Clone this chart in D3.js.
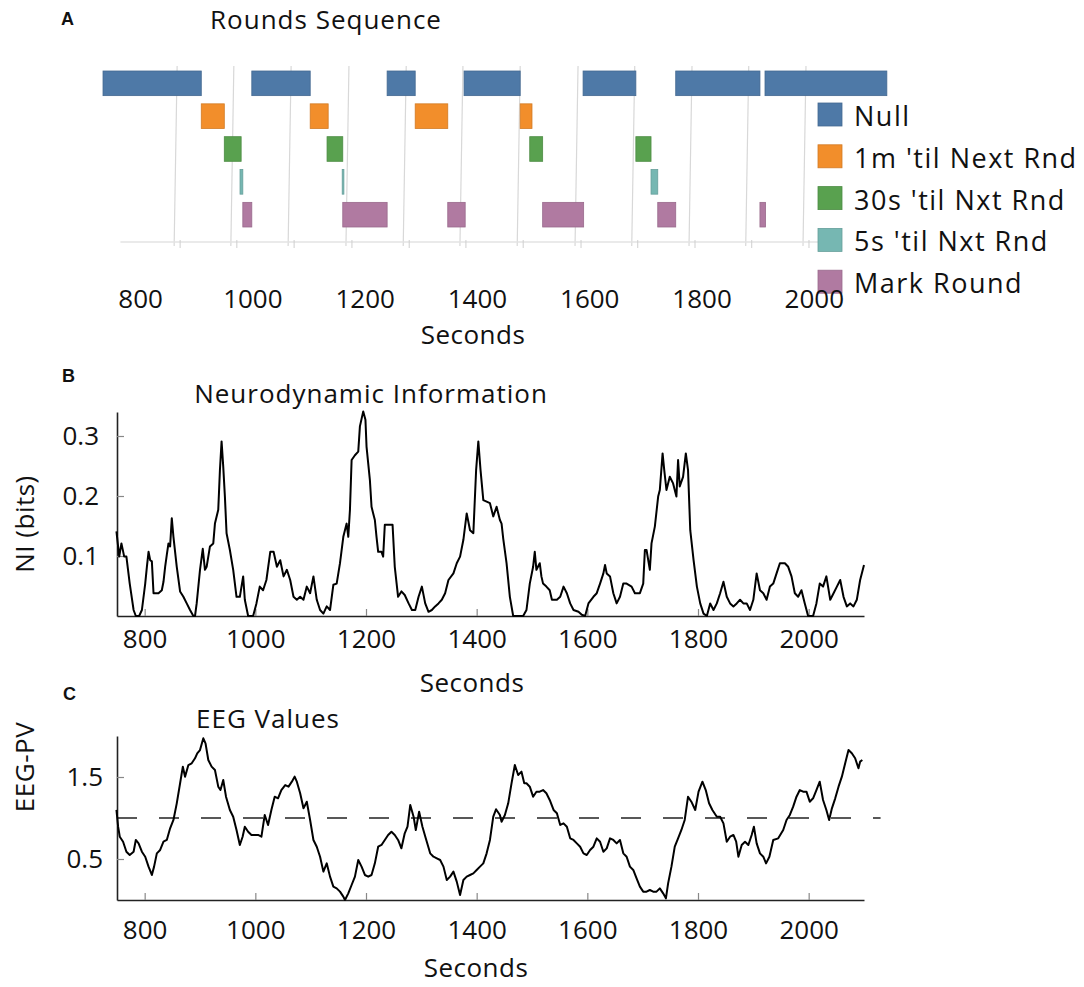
<!DOCTYPE html>
<html>
<head>
<meta charset="utf-8">
<script src="https://cdn.jsdelivr.net/npm/d3@7"></script>
<style>
  body { margin: 0; background: #fff; }
  text { font-family: "Open Sans", sans-serif; fill: #111; }
  text.tag { font-family: "Liberation Sans", Arial, sans-serif; font-weight: bold; font-size: 18px; }
  .title { font-size: 26px; letter-spacing: 1px; }
  .axisText { font-size: 26px; letter-spacing: 0.5px; }
  .tick text { font-family: "Open Sans", sans-serif; font-size: 26px; fill: #111; }
  .legend text { font-size: 27px; letter-spacing: 1.5px; }
</style>
</head>
<body>
<div id="chart"></div>
<script>
// ---------- data ----------
// panel A: round phases, [start, end] in seconds
var categories = ["Null", "1m 'til Next Rnd", "30s 'til Nxt Rnd", "5s 'til Nxt Rnd", "Mark Round"];
var categoryColors = ["#4e79a7", "#f28e2b", "#59a14f", "#76b7b2", "#b07aa1"];
var nullPeriods = [[734, 909], [999, 1103], [1240, 1290], [1377, 1477], [1589, 1683], [1754, 1904], [1913, 2130]];
var oneMinPeriods = [[909, 950], [1103, 1135], [1290, 1348], [1477, 1498]];
var thirtySecPeriods = [[950, 980], [1133, 1161], [1494, 1517], [1683, 1710]];
var fiveSecPeriods = [[978, 983], [1160, 1163], [1710, 1722]];
var markPeriods = [[983, 999], [1161, 1240], [1348, 1379], [1517, 1590], [1722, 1754], [1904, 1914]];
var gridSeconds = [866, 967, 1069, 1172, 1274, 1375, 1477, 1580, 1681, 1783, 1884, 1986];
var roundsAxisSpan = [765, 2010];
var xTickValues = [800, 1000, 1200, 1400, 1600, 1800, 2000];

// panel B: neurodynamic information (bits)
var niSeconds = [749, 754, 758, 763, 767, 773, 780, 784, 790, 795, 801, 804, 807, 810, 813, 816, 825, 831, 834, 837,
  840, 843, 846, 849, 852, 858, 864, 870, 876, 882, 888, 891, 894, 900, 905, 909, 912, 918, 924, 927,
  933, 936, 939, 942, 945, 948, 954, 960, 966, 972, 978, 981, 987, 996, 1002, 1008, 1014, 1020, 1027, 1033,
  1039, 1045, 1051, 1057, 1063, 1069, 1075, 1081, 1087, 1093, 1099, 1105, 1111, 1117, 1123, 1129, 1135, 1141, 1147, 1153,
  1159, 1165, 1168, 1171, 1174, 1180, 1186, 1189, 1195, 1199, 1201, 1207, 1210, 1213, 1216, 1219, 1222, 1228, 1231, 1234,
  1248, 1252, 1258, 1264, 1270, 1277, 1283, 1289, 1295, 1301, 1307, 1313, 1319, 1325, 1331, 1337, 1343, 1349, 1358, 1364,
  1370, 1376, 1382, 1388, 1394, 1399, 1403, 1407, 1412, 1424, 1430, 1436, 1442, 1445, 1448, 1454, 1460, 1466, 1484, 1490,
  1496, 1502, 1505, 1508, 1514, 1517, 1520, 1526, 1532, 1536, 1545, 1551, 1557, 1563, 1569, 1575, 1584, 1590, 1596, 1602,
  1611, 1617, 1623, 1629, 1632, 1635, 1641, 1647, 1653, 1659, 1665, 1671, 1680, 1686, 1695, 1701, 1704, 1707, 1713, 1716,
  1722, 1728, 1731, 1736, 1739, 1743, 1749, 1755, 1761, 1764, 1767, 1773, 1778, 1782, 1786, 1792, 1798, 1804, 1810, 1816,
  1822, 1828, 1834, 1840, 1846, 1852, 1858, 1864, 1870, 1876, 1882, 1888, 1894, 1900, 1906, 1912, 1918, 1924, 1930, 1936,
  1942, 1948, 1957, 1963, 1969, 1975, 1981, 1987, 1993, 1999, 2008, 2014, 2020, 2026, 2032, 2039, 2045, 2051, 2057, 2063,
  2069, 2075, 2081, 2087, 2093, 2100];
var niBits = [0.141, 0.099, 0.121, 0.099, 0.099, 0.054, 0.010, 0, 0, 0.010, 0.054, 0.082, 0.107, 0.093, 0.091, 0.038, 0.038, 0.043, 0.057, 0.082,
  0.102, 0.121, 0.116, 0.163, 0.132, 0.082, 0.041, 0.032, 0.021, 0.010, 0, 0, 0.021, 0.077, 0.112, 0.077, 0.082, 0.116, 0.121, 0.154,
  0.177, 0.243, 0.291, 0.249, 0.199, 0.138, 0.110, 0.077, 0.032, 0.032, 0.066, 0.027, 0, 0, 0.021, 0.049, 0.043, 0.060, 0.107, 0.107,
  0.082, 0.093, 0.066, 0.077, 0.060, 0.032, 0.027, 0.032, 0.027, 0.049, 0.038, 0.066, 0.027, 0.010, 0.004, 0.016, 0.010, 0.052, 0.054, 0.088,
  0.132, 0.154, 0.132, 0.177, 0.260, 0.268, 0.274, 0.316, 0.341, 0.327, 0.282, 0.227, 0.182, 0.171, 0.160, 0.132, 0.107, 0.107, 0.099, 0.152,
  0.152, 0.082, 0.032, 0.041, 0.035, 0.021, 0.010, 0.010, 0.032, 0.049, 0.021, 0.007, 0.010, 0.016, 0.021, 0.027, 0.038, 0.060, 0.071, 0.088,
  0.099, 0.127, 0.171, 0.143, 0.138, 0.243, 0.291, 0.243, 0.193, 0.188, 0.166, 0.182, 0.160, 0.154, 0.129, 0.088, 0.032, 0, 0, 0.010,
  0.054, 0.082, 0.107, 0.077, 0.088, 0.066, 0.054, 0.049, 0.043, 0.027, 0.027, 0.032, 0.049, 0.038, 0.021, 0.010, 0.007, 0.002, 0, 0.021,
  0.032, 0.038, 0.054, 0.071, 0.085, 0.071, 0.066, 0.038, 0.021, 0.032, 0.054, 0.054, 0.049, 0.038, 0.038, 0.054, 0.110, 0.110, 0.077, 0.121,
  0.149, 0.199, 0.210, 0.271, 0.243, 0.210, 0.232, 0.221, 0.199, 0.260, 0.216, 0.232, 0.271, 0.243, 0.143, 0.093, 0.049, 0.021, 0.004, 0,
  0.021, 0.010, 0.021, 0.038, 0.057, 0.032, 0.021, 0.016, 0.021, 0.027, 0.021, 0.021, 0.010, 0.027, 0.071, 0.043, 0.038, 0.027, 0.049, 0.054,
  0.071, 0.088, 0.088, 0.082, 0.066, 0.038, 0.032, 0.043, 0.021, 0, 0, 0.021, 0.054, 0.049, 0.066, 0.027, 0.038, 0.049, 0.060, 0.032,
  0.016, 0.021, 0.016, 0.027, 0.060, 0.085];

// panel C: EEG power values
var eegSeconds = [749, 752, 755, 761, 767, 773, 780, 784, 789, 795, 801, 807, 813, 817, 822, 828, 834, 840, 846, 852,
  858, 864, 869, 873, 879, 885, 891, 895, 900, 906, 910, 915, 921, 927, 933, 937, 942, 947, 954, 960,
  966, 972, 977, 981, 987, 993, 999, 1005, 1011, 1017, 1023, 1029, 1035, 1041, 1047, 1054, 1060, 1066, 1071, 1075,
  1081, 1087, 1093, 1099, 1105, 1111, 1117, 1123, 1129, 1135, 1141, 1147, 1153, 1159, 1162, 1168, 1174, 1180, 1186, 1192,
  1198, 1204, 1210, 1216, 1222, 1228, 1234, 1240, 1246, 1252, 1258, 1264, 1270, 1275, 1280, 1286, 1290, 1296, 1302, 1308,
  1316, 1322, 1328, 1334, 1340, 1346, 1352, 1358, 1364, 1370, 1376, 1382, 1388, 1394, 1400, 1406, 1412, 1418, 1424, 1430,
  1435, 1442, 1445, 1451, 1457, 1463, 1469, 1475, 1481, 1486, 1490, 1496, 1502, 1508, 1514, 1520, 1526, 1532, 1539, 1545,
  1551, 1557, 1563, 1569, 1575, 1581, 1587, 1593, 1599, 1605, 1611, 1617, 1623, 1629, 1635, 1641, 1647, 1653, 1659, 1665,
  1671, 1677, 1683, 1689, 1695, 1701, 1707, 1713, 1719, 1725, 1731, 1737, 1742, 1746, 1752, 1758, 1764, 1770, 1776, 1782,
  1788, 1795, 1801, 1808, 1814, 1820, 1826, 1834, 1840, 1846, 1852, 1858, 1864, 1869, 1873, 1879, 1885, 1891, 1897, 1901,
  1906, 1912, 1918, 1923, 1929, 1936, 1945, 1954, 1960, 1966, 1972, 1978, 1984, 1990, 1996, 2002, 2008, 2014, 2020, 2026,
  2032, 2037, 2042, 2048, 2054, 2060, 2066, 2072, 2078, 2084, 2090, 2093, 2097];
var eegValues = [1.10, 0.894, 0.772, 0.711, 0.589, 0.549, 0.589, 0.732, 0.691, 0.589, 0.528, 0.407, 0.305, 0.407, 0.569, 0.610, 0.711, 0.732, 0.874, 0.976,
  1.179, 1.423, 1.626, 1.504, 1.646, 1.667, 1.728, 1.789, 1.829, 1.972, 1.911, 1.707, 1.626, 1.585, 1.382, 1.341, 1.463, 1.260, 1.098, 1.016,
  0.854, 0.671, 0.772, 0.894, 0.833, 0.793, 0.793, 0.793, 0.772, 1.037, 0.915, 1.098, 1.260, 1.240, 1.341, 1.402, 1.382, 1.443, 1.504, 1.443,
  1.301, 1.118, 1.199, 0.976, 0.732, 0.650, 0.528, 0.346, 0.447, 0.285, 0.163, 0.142, 0.102, 0.041, 0, 0.081, 0.183, 0.285, 0.488, 0.407,
  0.305, 0.285, 0.305, 0.447, 0.650, 0.671, 0.732, 0.793, 0.833, 0.793, 0.732, 0.630, 0.813, 0.894, 1.159, 1.016, 0.854, 1.077, 0.894, 0.752,
  0.569, 0.528, 0.508, 0.488, 0.407, 0.244, 0.285, 0.346, 0.224, 0.061, 0.244, 0.285, 0.305, 0.325, 0.366, 0.407, 0.447, 0.569, 0.732, 1.016,
  1.106, 1.037, 0.955, 1.037, 1.179, 1.423, 1.646, 1.524, 1.565, 1.423, 1.423, 1.382, 1.260, 1.321, 1.321, 1.341, 1.301, 1.220, 1.098, 1.057,
  0.915, 0.935, 0.894, 0.752, 0.732, 0.691, 0.650, 0.569, 0.549, 0.610, 0.650, 0.752, 0.711, 0.589, 0.630, 0.752, 0.732, 0.691, 0.732, 0.569,
  0.528, 0.407, 0.366, 0.264, 0.163, 0.102, 0.102, 0.122, 0.102, 0.102, 0.142, 0.081, 0.020, 0.203, 0.407, 0.650, 0.752, 0.854, 0.976, 1.260,
  1.199, 1.098, 1.321, 1.443, 1.341, 1.179, 1.098, 1.016, 1.016, 0.935, 0.711, 0.772, 0.793, 0.711, 0.528, 0.671, 0.711, 0.671, 0.793, 0.894,
  0.691, 0.569, 0.528, 0.447, 0.528, 0.732, 0.752, 0.854, 0.976, 1.037, 1.138, 1.260, 1.341, 1.321, 1.321, 1.199, 1.240, 1.341, 1.443, 1.220,
  1.098, 0.976, 1.118, 1.240, 1.382, 1.504, 1.667, 1.829, 1.789, 1.728, 1.606, 1.687, 1.707];
var eegThreshold = 1.0;
var thresholdSpan = [750, 2130];

// ---------- svg ----------
var svgWidth = 1084;
var svgHeight = 987;

var svg = d3.select("#chart")
  .append("svg")
  .attr("width", svgWidth)
  .attr("height", svgHeight);

// ================= Panel A: rounds sequence =================
var xRounds = d3.scaleLinear().domain([750, 2100]).range([112, 870]);
var yRounds = d3.scaleBand().domain(categories).range([71, 227]).paddingInner(0.25);
var color = d3.scaleOrdinal().domain(categories).range(categoryColors);

var rounds = [];
[nullPeriods, oneMinPeriods, thirtySecPeriods, fiveSecPeriods, markPeriods].forEach(function(list, i) {
  list.forEach(function(p) {
    rounds.push({ cat: categories[i], start: p[0], end: p[1] });
  });
});

// faint vertical grid
svg.append("g")
  .selectAll("line")
  .data(gridSeconds)
  .enter()
  .append("line")
  .attr("x1", d => xRounds(d))
  .attr("x2", d => xRounds(d) - 3)
  .attr("y1", 66)
  .attr("y2", 246)
  .attr("stroke", "#d8d8d8")
  .attr("stroke-width", 1.2);

// faint baseline with little ticks
svg.append("line")
  .attr("x1", xRounds(roundsAxisSpan[0]))
  .attr("x2", xRounds(roundsAxisSpan[1]))
  .attr("y1", 242)
  .attr("y2", 242)
  .attr("stroke", "#e3e3e3")
  .attr("stroke-width", 1.5);

svg.append("g")
  .selectAll("line")
  .data(gridSeconds)
  .enter()
  .append("line")
  .attr("x1", d => xRounds(d) + 3)
  .attr("x2", d => xRounds(d) + 3)
  .attr("y1", 240)
  .attr("y2", 248)
  .attr("stroke", "#cfcfcf");

svg.append("g")
  .selectAll("rect")
  .data(rounds)
  .enter()
  .append("rect")
  .attr("x", d => xRounds(d.start))
  .attr("y", d => yRounds(d.cat))
  .attr("width", d => xRounds(d.end) - xRounds(d.start))
  .attr("height", yRounds.bandwidth())
  .attr("fill", d => color(d.cat))
  .attr("stroke", d => d3.color(color(d.cat)).darker(0.4))
  .attr("stroke-width", 0.8);

// legend
var legend = svg.append("g")
  .attr("class", "legend")
  .attr("transform", "translate(818, 103)");

var legendItem = legend.selectAll("g")
  .data(categories)
  .enter()
  .append("g")
  .attr("transform", (d, i) => `translate(0, ${i * 41.8})`);

legendItem.append("rect")
  .attr("width", 24)
  .attr("height", 23)
  .attr("fill", d => color(d))
  .attr("stroke", d => d3.color(color(d)).darker(0.4))
  .attr("stroke-width", 0.8);

legendItem.append("text")
  .attr("x", 36)
  .attr("y", 23)
  .text(d => d);

// x labels for panel A
var roundsAxis = svg.append("g")
  .attr("transform", "translate(0, 290)")
  .call(d3.axisBottom(xRounds).tickValues(xTickValues).tickFormat(d3.format("d")).tickSize(0).tickPadding(0));
roundsAxis.select(".domain").remove();

svg.append("text")
  .attr("class", "axisText")
  .attr("x", 473)
  .attr("y", 344)
  .attr("text-anchor", "middle")
  .text("Seconds");

svg.append("text").attr("class", "tag").attr("x", 61).attr("y", 25).text("A");
svg.append("text")
  .attr("class", "title")
  .attr("x", 326)
  .attr("y", 29)
  .attr("text-anchor", "middle")
  .text("Rounds Sequence");

// ================= shared time scale for B and C =================
var xTime = d3.scaleLinear().domain([750, 2100]).range([117, 864]);

function styleAxis(g) {
  g.select(".domain").attr("stroke", "#222").attr("stroke-width", 1.6);
  g.selectAll(".tick line").attr("stroke", "#888").attr("stroke-width", 1.2);
}

// ================= Panel B: neurodynamic information =================
var yNI = d3.scaleLinear().domain([0, 0.34]).range([616, 412]);
var niData = niSeconds.map((t, i) => [t, niBits[i]]);

svg.append("g")
  .attr("transform", "translate(0, 616)")
  .call(d3.axisBottom(xTime).tickValues(xTickValues).tickFormat(d3.format("d"))
    .tickSize(-7).tickSizeOuter(0).tickPadding(14))
  .call(styleAxis);

svg.append("g")
  .attr("transform", "translate(117, 0)")
  .call(d3.axisLeft(yNI).tickValues([0.1, 0.2, 0.3]).tickFormat(d3.format(".1f"))
    .tickSize(-7).tickSizeOuter(0).tickPadding(18))
  .call(styleAxis);

svg.append("path")
  .datum(niData)
  .attr("fill", "none")
  .attr("stroke", "#000")
  .attr("stroke-width", 2)
  .attr("stroke-linejoin", "round")
  .attr("d", d3.line().x(d => xTime(d[0])).y(d => yNI(d[1])));

svg.append("text").attr("class", "tag").attr("x", 62).attr("y", 382).text("B");
svg.append("text")
  .attr("class", "title")
  .attr("x", 371)
  .attr("y", 403)
  .attr("text-anchor", "middle")
  .text("Neurodynamic Information");

svg.append("text")
  .attr("class", "axisText")
  .attr("transform", "translate(34, 524) rotate(-90)")
  .attr("text-anchor", "middle")
  .text("NI (bits)");

svg.append("text")
  .attr("class", "axisText")
  .attr("x", 472)
  .attr("y", 692)
  .attr("text-anchor", "middle")
  .text("Seconds");

// ================= Panel C: EEG values =================
var yEEG = d3.scaleLinear().domain([0, 2]).range([900, 736]);
var eegData = eegSeconds.map((t, i) => [t, eegValues[i]]);

svg.append("line")
  .attr("x1", xTime(thresholdSpan[0]))
  .attr("x2", xTime(thresholdSpan[1]))
  .attr("y1", yEEG(eegThreshold))
  .attr("y2", yEEG(eegThreshold))
  .attr("stroke", "#222")
  .attr("stroke-width", 1.5)
  .attr("stroke-dasharray", "20,22");

svg.append("g")
  .attr("transform", "translate(0, 900)")
  .call(d3.axisBottom(xTime).tickValues(xTickValues).tickFormat(d3.format("d"))
    .tickSize(-7).tickSizeOuter(0).tickPadding(21))
  .call(styleAxis);

svg.append("g")
  .attr("transform", "translate(117, 0)")
  .call(d3.axisLeft(yEEG).tickValues([0.5, 1.5]).tickFormat(d3.format(".1f"))
    .tickSize(-7).tickSizeOuter(0).tickPadding(14))
  .call(styleAxis);

svg.append("path")
  .datum(eegData)
  .attr("fill", "none")
  .attr("stroke", "#000")
  .attr("stroke-width", 2)
  .attr("stroke-linejoin", "round")
  .attr("d", d3.line().x(d => xTime(d[0])).y(d => yEEG(d[1])));

svg.append("text").attr("class", "tag").attr("x", 63).attr("y", 700).text("C");
svg.append("text")
  .attr("class", "title")
  .attr("x", 268)
  .attr("y", 728)
  .attr("text-anchor", "middle")
  .text("EEG Values");

svg.append("text")
  .attr("class", "axisText")
  .attr("transform", "translate(34, 767) rotate(-90)")
  .attr("text-anchor", "middle")
  .text("EEG-PV");

svg.append("text")
  .attr("class", "axisText")
  .attr("x", 476)
  .attr("y", 977)
  .attr("text-anchor", "middle")
  .text("Seconds");
</script>
</body>
</html>
